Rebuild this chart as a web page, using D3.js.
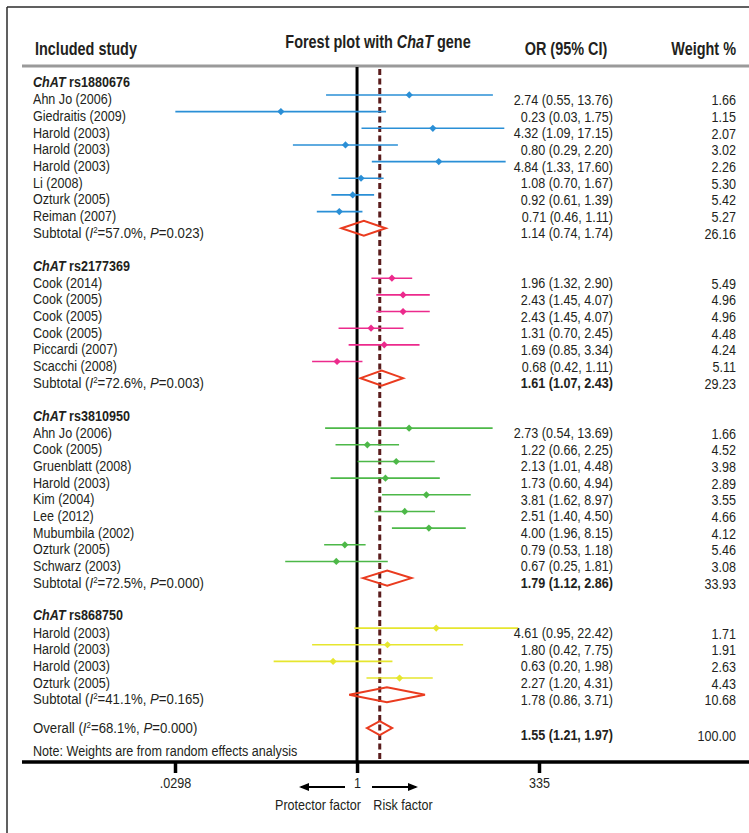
<!DOCTYPE html>
<html>
<head>
<meta charset="utf-8">
<script src="https://cdn.jsdelivr.net/npm/d3@7"></script>
<style>
  html, body { margin: 0; padding: 0; background: #fff; }
  svg { display: block; }
  text { font-family: 'Liberation Sans', Arial, sans-serif; fill: #231f20; }
</style>
</head>
<body>
<svg id="chart" width="749" height="833"></svg>
<script>
// ---- data ----
const groupNames = ["rs1880676", "rs2177369", "rs3810950", "rs868750"];
const groupColors = ["#2a8fd6", "#ec2a8c", "#4db848", "#e6e62e"];

const studyGroup = [0,0,0,0,0,0,0,0, 1,1,1,1,1,1, 2,2,2,2,2,2,2,2,2, 3,3,3,3];
const studyNames = [
  "Ahn Jo (2006)", "Giedraitis (2009)", "Harold (2003)", "Harold (2003)", "Harold (2003)", "Li (2008)", "Ozturk (2005)", "Reiman (2007)",
  "Cook (2014)", "Cook (2005)", "Cook (2005)", "Cook (2005)", "Piccardi (2007)", "Scacchi (2008)",
  "Ahn Jo (2006)", "Cook (2005)", "Gruenblatt (2008)", "Harold (2003)", "Kim (2004)", "Lee (2012)", "Mubumbila (2002)", "Ozturk (2005)", "Schwarz (2003)",
  "Harold (2003)", "Harold (2003)", "Harold (2003)", "Ozturk (2005)"
];
const studyOR = [2.74,0.23,4.32,0.80,4.84,1.08,0.92,0.71, 1.96,2.43,2.43,1.31,1.69,0.68, 2.73,1.22,2.13,1.73,3.81,2.51,4.00,0.79,0.67, 4.61,1.80,0.63,2.27];
const studyLower = [0.55,0.03,1.09,0.29,1.33,0.70,0.61,0.46, 1.32,1.45,1.45,0.70,0.85,0.42, 0.54,0.66,1.01,0.60,1.62,1.40,1.96,0.53,0.25, 0.95,0.42,0.20,1.20];
const studyUpper = [13.76,1.75,17.15,2.20,17.60,1.67,1.39,1.11, 2.90,4.07,4.07,2.45,3.34,1.11, 13.69,2.25,4.48,4.94,8.97,4.50,8.15,1.18,1.81, 22.42,7.75,1.98,4.31];
const studyWeight = [1.66,1.15,2.07,3.02,2.26,5.30,5.42,5.27, 5.49,4.96,4.96,4.48,4.24,5.11, 1.66,4.52,3.98,2.89,3.55,4.66,4.12,5.46,3.08, 1.71,1.91,2.63,4.43];

const subtotalOR = [1.14, 1.61, 1.79, 1.78];
const subtotalLower = [0.74, 1.07, 1.12, 0.86];
const subtotalUpper = [1.74, 2.43, 2.86, 3.71];
const subtotalWeight = [26.16, 29.23, 33.93, 10.68];
const subtotalI2 = ["57.0", "72.6", "72.5", "41.1"];
const subtotalP = ["0.023", "0.003", "0.000", "0.165"];
const subtotalBold = [false, true, true, false];

const overallOR = 1.55, overallLower = 1.21, overallUpper = 1.97, overallWeight = 100.00;
const overallI2 = "68.1", overallP = "0.000";

const tickValues = [0.0298, 1, 33.5];
const tickLabels = [".0298", "1", "335"];

// ---- layout ----
const svg = d3.select("#chart");
const x = d3.scaleLog().domain([0.0298, 33.5]).range([175, 539]);
const rowY = d3.scaleLinear().domain([0, 40]).range([78.3, 744.7]);
const plotTop = 66, axisY = 762;
const textX = 33, orX = 613, wX = 736;
const bodySize = 14.5, headSize = 18;

// horizontal compression so the sans face reads as a condensed one
function measure(str, size, bold) {
  const t = svg.append("text").attr("font-size", size).attr("font-weight", bold ? "bold" : null).text(str);
  const w = t.node().getComputedTextLength();
  t.remove();
  return w;
}
const sxBody = 79 / measure("Ahn Jo (2006)", bodySize, false);
const sxHead = 102 / measure("Included study", headSize, true);
const sxStat = 174 / measure("Subtotal (I2=57.0%, P=0.023)", bodySize, false);

// rich text helper: segments of {t, b, i, sup}
function richText(sel, xPos, yPos, segs, anchor, size, sx) {
  size = size || bodySize;
  sx = sx || sxBody;
  const t = sel.append("text").attr("x", 0).attr("y", 0)
    .attr("transform", `translate(${xPos},${yPos}) scale(${sx},1)`)
    .attr("font-size", size).attr("text-anchor", anchor || "start");
  segs.forEach(s => {
    const ts = t.append("tspan").text(s.t);
    if (s.b) ts.attr("font-weight", "bold");
    if (s.i) ts.attr("font-style", "italic");
    if (s.sup) ts.attr("font-size", size * 0.6).attr("dy", -5);
    if (s.after) ts.attr("dy", 5);
  });
  return t;
}
const fmtCI = (o, l, u) => `${o.toFixed(2)} (${l.toFixed(2)}, ${u.toFixed(2)})`;
const statSegs = (label, i2, p) => [{t: label + " ("}, {t: "I", i: true}, {t: "2", sup: true},
  {t: "=" + i2 + "%, ", after: true}, {t: "P", i: true}, {t: "=" + p + ")"}];

// ---- frame ----
svg.append("line").attr("x1", 7).attr("x2", 749).attr("y1", 7).attr("y2", 7).attr("stroke", "#2b2b2b").attr("stroke-width", 1.5);
svg.append("line").attr("x1", 7).attr("x2", 7).attr("y1", 7).attr("y2", 833).attr("stroke", "#2b2b2b").attr("stroke-width", 1.5);

// ---- headings ----
richText(svg, 35, 55, [{t: "Included study", b: true}], "start", headSize, sxHead);
richText(svg, 378, 48, [{t: "Forest plot with ", b: true}, {t: "ChaT", b: true, i: true}, {t: " gene", b: true}], "middle", headSize, sxHead);
richText(svg, 566, 55, [{t: "OR (95% CI)", b: true}], "middle", headSize, sxHead);
richText(svg, 736, 55, [{t: "Weight %", b: true}], "end", headSize, sxHead);
svg.append("line").attr("x1", 22).attr("x2", 749).attr("y1", plotTop).attr("y2", plotTop)
  .attr("stroke", "#9a9a9a").attr("stroke-width", 3);

// ---- reference lines ----
svg.append("line").attr("x1", x(1)).attr("x2", x(1)).attr("y1", plotTop + 1).attr("y2", axisY)
  .attr("stroke", "#000").attr("stroke-width", 3);
svg.append("line").attr("x1", x(overallOR)).attr("x2", x(overallOR)).attr("y1", plotTop + 3).attr("y2", axisY)
  .attr("stroke", "#5a1c1c").attr("stroke-width", 3).attr("stroke-dasharray", "6,3.5");

// ---- rows ----
const g = svg.append("g");
const rows = [];
let r = 0;
groupNames.forEach((gn, gi) => {
  rows.push({type: "header", row: r++, group: gi});
  studyNames.forEach((n, i) => {
    if (studyGroup[i] === gi) rows.push({type: "study", row: r++, group: gi, idx: i});
  });
  rows.push({type: "subtotal", row: r++, group: gi});
  r++; // blank spacer
});
const overallRow = r;

rows.forEach(d => {
  const y = rowY(d.row);
  if (d.type === "header") {
    richText(g, textX, y + 9, [{t: "ChAT", b: true, i: true}, {t: " rs" + groupNames[d.group].slice(2), b: true}]);
  } else if (d.type === "study") {
    const i = d.idx, col = groupColors[d.group];
    richText(g, textX, y + 9.5, [{t: studyNames[i]}]);
    g.append("line").attr("x1", x(studyLower[i])).attr("x2", x(studyUpper[i]))
      .attr("y1", y).attr("y2", y).attr("stroke", col).attr("stroke-width", 1.6);
    const cx = x(studyOR[i]), s = 3.6;
    g.append("path").attr("d", `M${cx - s},${y}L${cx},${y - s}L${cx + s},${y}L${cx},${y + s}Z`).attr("fill", col);
    richText(g, orX, y + 10, [{t: fmtCI(studyOR[i], studyLower[i], studyUpper[i])}], "end");
    richText(g, wX, y + 10.5, [{t: studyWeight[i].toFixed(2)}], "end");
  } else {
    const gi = d.group;
    richText(g, textX, y + 9.5, statSegs("Subtotal", subtotalI2[gi], subtotalP[gi]), "start", bodySize, sxStat);
    const l = x(subtotalLower[gi]), u = x(subtotalUpper[gi]), c = x(subtotalOR[gi]), h = 7.5;
    g.append("path").attr("d", `M${l},${y}L${c},${y - h}L${u},${y}L${c},${y + h}Z`)
      .attr("fill", "none").attr("stroke", "#ea3b1f").attr("stroke-width", 2);
    richText(g, orX, y + 10, [{t: fmtCI(subtotalOR[gi], subtotalLower[gi], subtotalUpper[gi]), b: subtotalBold[gi]}], "end");
    richText(g, wX, y + 10.5, [{t: subtotalWeight[gi].toFixed(2)}], "end");
  }
});

// overall
{
  const y = rowY(overallRow);
  richText(g, textX, y + 5, statSegs("Overall", overallI2, overallP), "start", bodySize, sxStat);
  const l = x(overallLower), u = x(overallUpper), c = x(overallOR), h = 7;
  g.append("path").attr("d", `M${l},${y}L${c},${y - h}L${u},${y}L${c},${y + h}Z`)
    .attr("fill", "none").attr("stroke", "#ea3b1f").attr("stroke-width", 2);
  richText(g, orX, y + 12, [{t: fmtCI(overallOR, overallLower, overallUpper), b: true}], "end");
  richText(g, wX, y + 12.5, [{t: overallWeight.toFixed(2)}], "end");
  richText(g, textX, rowY(overallRow + 1) + 11, [{t: "Note: Weights are from random effects analysis"}]);
}

// ---- axis ----
svg.append("line").attr("x1", 22).attr("x2", 749).attr("y1", axisY).attr("y2", axisY)
  .attr("stroke", "#000").attr("stroke-width", 3.5);
const axis = d3.axisBottom(x).tickValues(tickValues)
  .tickFormat((d, i) => tickLabels[i]).tickSize(11).tickPadding(5);
const ag = svg.append("g").attr("transform", `translate(0,${axisY})`).call(axis);
ag.select(".domain").remove();
ag.selectAll(".tick line").attr("stroke", "#000").attr("stroke-width", 3.5);
ag.selectAll(".tick text").attr("font-size", bodySize).attr("fill", "#231f20")
  .attr("transform", `scale(${sxBody},1)`)
  .style("font-family", "'Liberation Sans', Arial, sans-serif");

// direction arrows
const defs = svg.append("defs");
defs.append("marker").attr("id", "ah").attr("viewBox", "0 0 10 10").attr("refX", 8).attr("refY", 5)
  .attr("markerWidth", 5).attr("markerHeight", 5).attr("orient", "auto")
  .append("path").attr("d", "M0,1L10,5L0,9Z").attr("fill", "#000");
svg.append("line").attr("x1", 345).attr("x2", 301).attr("y1", 787).attr("y2", 787)
  .attr("stroke", "#000").attr("stroke-width", 2).attr("marker-end", "url(#ah)");
svg.append("line").attr("x1", 372).attr("x2", 416).attr("y1", 787).attr("y2", 787)
  .attr("stroke", "#000").attr("stroke-width", 2).attr("marker-end", "url(#ah)");
richText(svg, 318, 810, [{t: "Protector factor"}], "middle");
richText(svg, 403, 810, [{t: "Risk factor"}], "middle");
</script>
</body>
</html>
